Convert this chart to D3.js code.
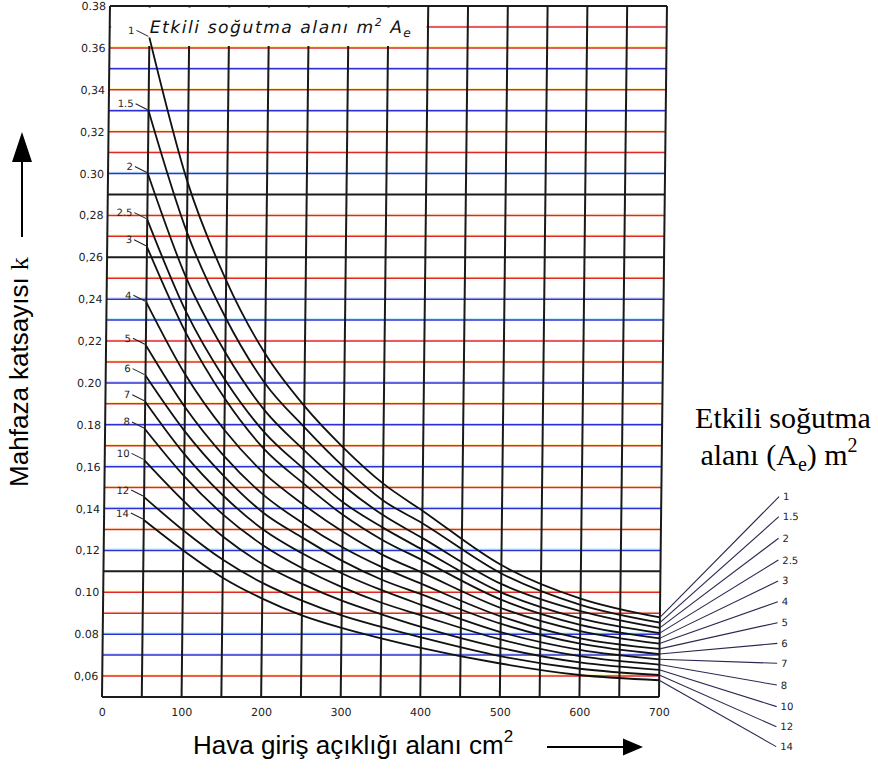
<!DOCTYPE html>
<html>
<head>
<meta charset="utf-8">
<script src="https://cdn.jsdelivr.net/npm/d3@7"></script>
<style>
  body { margin: 0; background: #fff; }
  svg { display: block; }
</style>
</head>
<body>
<svg id="chart" width="878" height="769"></svg>
<script>
// air inlet area (cm2) where the curves were read
const xPoints = [50, 100, 150, 200, 250, 300, 350, 400, 500, 600, 700];

// effective cooling area Ae (m2), one curve each
const areas = ["1", "1.5", "2", "2.5", "3", "4", "5", "6", "7", "8", "10", "12", "14"];

// housing coefficient k at xPoints
const k1   = [0.365, 0.296, 0.249, 0.214, 0.189, 0.169, 0.152, 0.139, 0.113, 0.097, 0.088];
const k1_5 = [0.330, 0.272, 0.231, 0.200, 0.179, 0.160, 0.144, 0.133, 0.109, 0.094, 0.0855];
const k2   = [0.300, 0.250, 0.2145, 0.187, 0.168, 0.151, 0.137, 0.126, 0.104, 0.091, 0.083];
const k2_5 = [0.278, 0.234, 0.2015, 0.1765, 0.159, 0.143, 0.131, 0.1205, 0.100, 0.0875, 0.0805];
const k3   = [0.265, 0.224, 0.1925, 0.1685, 0.152, 0.137, 0.125, 0.1155, 0.0965, 0.0845, 0.078];
const k4   = [0.2385, 0.204, 0.1775, 0.157, 0.142, 0.129, 0.118, 0.1095, 0.0925, 0.0815, 0.0755];
const k5   = [0.218, 0.1885, 0.165, 0.1465, 0.133, 0.1215, 0.112, 0.104, 0.0885, 0.078, 0.073];
const k6   = [0.2035, 0.177, 0.1555, 0.138, 0.126, 0.115, 0.106, 0.099, 0.085, 0.0755, 0.0705];
const k7   = [0.191, 0.166, 0.146, 0.130, 0.1185, 0.109, 0.101, 0.094, 0.081, 0.0725, 0.068];
const k8   = [0.178, 0.1555, 0.137, 0.1225, 0.1115, 0.1025, 0.095, 0.089, 0.0775, 0.0695, 0.0655];
const k10  = [0.163, 0.1435, 0.1265, 0.1135, 0.104, 0.096, 0.0895, 0.0835, 0.0735, 0.0665, 0.063];
const k12  = [0.1455, 0.1295, 0.1155, 0.1045, 0.096, 0.089, 0.0835, 0.0785, 0.0695, 0.0635, 0.0605];
const k14  = [0.1345, 0.120, 0.107, 0.097, 0.089, 0.083, 0.078, 0.0735, 0.066, 0.0605, 0.058];

// the fan of leader lines on the right: where each one ends (k units, at x = fanX)
const fanX = 848;
const fanEnds = [0.1457, 0.1361, 0.1258, 0.1154, 0.1054, 0.0955, 0.0855, 0.0756, 0.0661, 0.0557, 0.0454, 0.0358, 0.0263];

// axis ticks, labels as printed on the scan
const xTicks = [0, 100, 200, 300, 400, 500, 600, 700];
const yTicks = [0.06, 0.08, 0.10, 0.12, 0.14, 0.16, 0.18, 0.20, 0.22, 0.24, 0.26, 0.28, 0.30, 0.32, 0.34, 0.36, 0.38];
const yTickLabels = ["0,06", "0.08", "0.10", "0,12", "0,14", "0,16", "0.18", "0.20", "0,22", "0,24", "0,26", "0,28", "0.30", "0,32", "0,34", "0.36", "0.38"];

const kSeries = [k1, k1_5, k2, k2_5, k3, k4, k5, k6, k7, k8, k10, k12, k14];

// scan look: colour of each horizontal rule, from 0.05 up to 0.38
const hColors = "krbbrrkbrbrbrbrbrrbbrkrrkbrrbrbrrk";
const tint = { r: "#e3262e", b: "#2c30d6", k: "#1c1c1c" };
const fringe = { r: "#f1df1c", b: "#2ad0e4" };

const svg = d3.select("#chart");

const x = d3.scaleLinear().domain([0, 700]).range([102, 659]);
const y = d3.scaleLinear().domain([0.05, 0.38]).range([697, 6]);

// the scan is slightly sheared, top sits ~8px right of the bottom
const plot = svg.append("g")
  .attr("transform", "translate(0,697) skewX(-0.66) translate(0,-697)");

// horizontal rules every 0.01
d3.range(34).forEach(i => {
  const v = +(0.05 + i * 0.01).toFixed(2);
  const c = hColors[i];
  if (c !== "k") {
    plot.append("line")
      .attr("x1", x(0)).attr("x2", x(700))
      .attr("y1", y(v) - 1.3).attr("y2", y(v) - 1.3)
      .attr("stroke", fringe[c]).attr("stroke-width", 1)
      .attr("opacity", 0.35);
  }
  plot.append("line")
    .attr("x1", x(0)).attr("x2", x(700))
    .attr("y1", y(v)).attr("y2", y(v))
    .attr("stroke", tint[c])
    .attr("stroke-width", c === "k" ? 2 : 1.5);
});

// vertical rules every 50
d3.range(0, 701, 50).forEach(v => {
  plot.append("line")
    .attr("x1", x(v)).attr("x2", x(v))
    .attr("y1", y(0.38)).attr("y2", y(0.05))
    .attr("stroke", "#1a1a1a").attr("stroke-width", 2);
});

// white label box at the top of the grid
plot.append("rect")
  .attr("x", x(0) + 1.5).attr("y", y(0.38) + 1.5)
  .attr("width", x(400) - x(0) - 3)
  .attr("height", y(0.36) - y(0.38) - 3.5)
  .attr("fill", "#fff");

const boxTitle = plot.append("text")
  .attr("x", 142).attr("y", 33)
  .attr("font-family", "DejaVu Sans").attr("font-style", "italic")
  .attr("font-size", 17).attr("letter-spacing", 1.6)
  .attr("fill", "#111");
boxTitle.append("tspan").text("Etkili soğutma alanı m");
boxTitle.append("tspan").attr("dy", -7).attr("font-size", 11).text("2");
boxTitle.append("tspan").attr("dy", 7).text(" A");
boxTitle.append("tspan").attr("dy", 4).attr("font-size", 12).text("e");

// curves
const line = d3.line()
  .x((d, j) => x(xPoints[j]))
  .y(d => y(d))
  .curve(d3.curveMonotoneX);

plot.append("g").selectAll("path")
  .data(kSeries)
  .join("path")
  .attr("d", line)
  .attr("fill", "none")
  .attr("stroke", "#111")
  .attr("stroke-width", 1.8);

// fan lines from the curve ends out to the area labels
plot.append("g").selectAll("line")
  .data(kSeries)
  .join("line")
  .attr("x1", x(700)).attr("y1", d => y(d[d.length - 1]))
  .attr("x2", x(fanX)).attr("y2", (d, i) => y(fanEnds[i]))
  .attr("stroke", "#2a2850").attr("stroke-width", 1.1);

plot.append("g").selectAll("text")
  .data(areas)
  .join("text")
  .attr("x", x(fanX) + 4)
  .attr("y", (d, i) => y(fanEnds[i]) + 3.5)
  .attr("font-family", "DejaVu Sans").attr("font-size", 10)
  .attr("fill", "#222")
  .text(d => d);

// curve labels on the left with their small leaders
const leftLabels = plot.append("g");
areas.forEach((a, i) => {
  const y0 = y(kSeries[i][0]);
  leftLabels.append("text")
    .attr("x", x(50) - 15).attr("y", y0 - 7 + 3.5)
    .attr("text-anchor", "end")
    .attr("font-family", "DejaVu Sans").attr("font-size", 10)
    .attr("fill", "#222")
    .text(a);
  leftLabels.append("line")
    .attr("x1", x(50) - 13).attr("y1", y0 - 7)
    .attr("x2", x(50) - 1).attr("y2", y0 - 1)
    .attr("stroke", "#222").attr("stroke-width", 1);
});

// axes
const yAxis = plot.append("g")
  .attr("transform", `translate(${x(0)},0)`)
  .call(d3.axisLeft(y).tickValues(yTicks)
    .tickFormat((d, i) => yTickLabels[i])
    .tickSize(0).tickPadding(4));
yAxis.select(".domain").remove();

const xAxis = plot.append("g")
  .attr("transform", `translate(0,${y(0.05)})`)
  .call(d3.axisBottom(x).tickValues(xTicks).tickSize(0).tickPadding(11));
xAxis.select(".domain").remove();

svg.selectAll(".tick text")
  .attr("font-family", "DejaVu Sans")
  .attr("font-size", 11)
  .attr("fill", "#222");

// x title with arrow
const xTitle = svg.append("text")
  .attr("x", 193).attr("y", 754)
  .attr("font-family", "Liberation Sans").attr("font-size", 26)
  .attr("fill", "#000");
xTitle.append("tspan").text("Hava giriş açıklığı alanı cm");
xTitle.append("tspan").attr("dy", -12).attr("font-size", 17).text("2");

svg.append("line")
  .attr("x1", 547).attr("y1", 747).attr("x2", 626).attr("y2", 747)
  .attr("stroke", "#000").attr("stroke-width", 2);
svg.append("path")
  .attr("d", "M643,747 L623,738.5 L623,755.5 Z")
  .attr("fill", "#000");

// y title with arrow
const yTitle = svg.append("text")
  .attr("transform", "translate(28,372) rotate(-90)")
  .attr("text-anchor", "middle")
  .attr("font-family", "Liberation Sans").attr("font-size", 26)
  .attr("fill", "#000");
yTitle.append("tspan").text("Mahfaza katsayısı ");
yTitle.append("tspan").attr("font-family", "Liberation Serif").text("k");

svg.append("line")
  .attr("x1", 22).attr("y1", 237).attr("x2", 22).attr("y2", 158)
  .attr("stroke", "#000").attr("stroke-width", 2);
svg.append("path")
  .attr("d", "M22,132 L12,162 L32,162 Z")
  .attr("fill", "#000");

// right-hand title for the fan
const rTitle = svg.append("g")
  .attr("font-family", "Liberation Serif").attr("font-size", 30)
  .attr("fill", "#000").attr("text-anchor", "middle");
rTitle.append("text").attr("x", 783).attr("y", 428).text("Etkili soğutma");
const r2 = rTitle.append("text").attr("x", 779).attr("y", 465);
r2.append("tspan").text("alanı (A");
r2.append("tspan").attr("dy", 6).attr("font-size", 20).text("e");
r2.append("tspan").attr("dy", -6).text(") m");
r2.append("tspan").attr("dy", -13).attr("font-size", 20).text("2");
</script>
</body>
</html>
